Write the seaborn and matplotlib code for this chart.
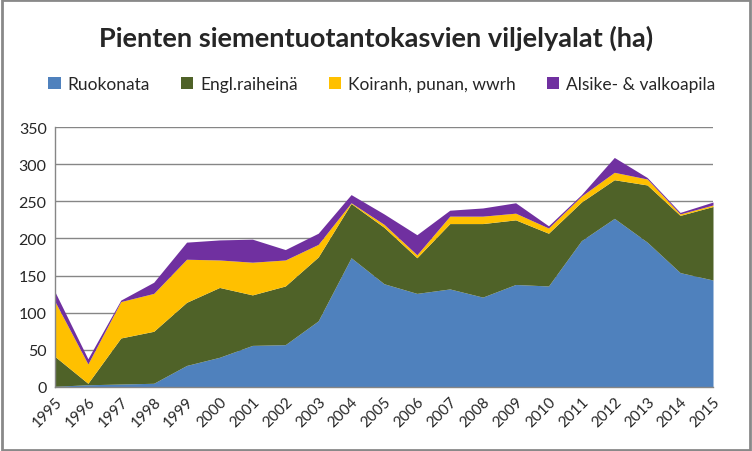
import matplotlib
matplotlib.use("Agg")
import matplotlib.pyplot as plt
import seaborn as sns
import pandas as pd
from matplotlib.patches import Rectangle, Patch

years = list(range(1995, 2016))
ruokonata = [1, 3, 4, 5, 29, 40, 56, 57, 89, 174, 139, 126, 132, 121, 138, 136, 197, 227, 195, 154, 144]
engl_raiheina = [40, 2, 62, 70, 85, 94, 68, 79, 86, 73, 76, 48, 88, 99, 87, 71, 52, 52, 77, 77, 99]
koiranh = [74, 26, 49, 51, 58, 37, 44, 35, 17, 1, 4, 4, 10, 10, 9, 7, 8, 10, 8, 2, 2]
alsike = [13, 7, 2, 15, 23, 27, 31, 14, 15, 11, 14, 27, 8, 11, 14, 3, 2, 20, 2, 2, 4]

series_names = ["Ruokonata", "Engl.raiheinä", "Koiranh, punan, wwrh", "Alsike- & valkoapila"]
colors = ["#4F81BD", "#4F6228", "#FFC000", "#7030A0"]
title = "Pienten siementuotantokasvien viljelyalat (ha)"

df = pd.DataFrame({"Vuosi": years, series_names[0]: ruokonata, series_names[1]: engl_raiheina,
                   series_names[2]: koiranh, series_names[3]: alsike})

sns.set_theme(style="white")
plt.rcParams["font.family"] = ["Lato", "DejaVu Sans"]

fig = plt.figure(figsize=(7.52, 4.52), dpi=100)
ax = fig.add_axes([55/752, 1-388/452, (713-55)/752, (388-128)/452])

ax.stackplot(df["Vuosi"], [df[n] for n in series_names], colors=colors, labels=series_names, linewidth=0)

ax.set_xlim(1995, 2015)
ax.set_ylim(0, 350)
ax.set_yticks(range(0, 351, 50))
ax.set_xticks(years)
ax.set_xticklabels([str(y) for y in years], rotation=45, ha="right", rotation_mode="anchor", fontsize=11)
ax.tick_params(axis="y", labelsize=11.5, length=0, pad=6)
ax.tick_params(axis="x", length=0, pad=5)
ax.yaxis.grid(True, color="#868686", linewidth=1)
ax.set_axisbelow(True)
for s in ["top", "right"]:
    ax.spines[s].set_visible(False)
for s in ["left", "bottom"]:
    ax.spines[s].set_color("#868686")
    ax.spines[s].set_linewidth(1)
ax.set_xlabel("")
ax.set_ylabel("")

fig.text(0.5, 1-38/452, title, ha="center", va="center", fontsize=19.5, fontweight="bold")

handles = [Patch(facecolor=c, edgecolor="none") for c in colors]
fig.legend(handles, series_names, loc="center", bbox_to_anchor=(0.508, 1-85/452), ncol=4,
           frameon=False, fontsize=12.5, handlelength=0.7, handleheight=0.7, handletextpad=0.4,
           columnspacing=1.8)

fig.patches.append(Rectangle((0.002, 0.003), 0.995, 0.994, transform=fig.transFigure,
                             fill=False, edgecolor="#898989", linewidth=2))

fig.savefig("out.png", dpi=100)
